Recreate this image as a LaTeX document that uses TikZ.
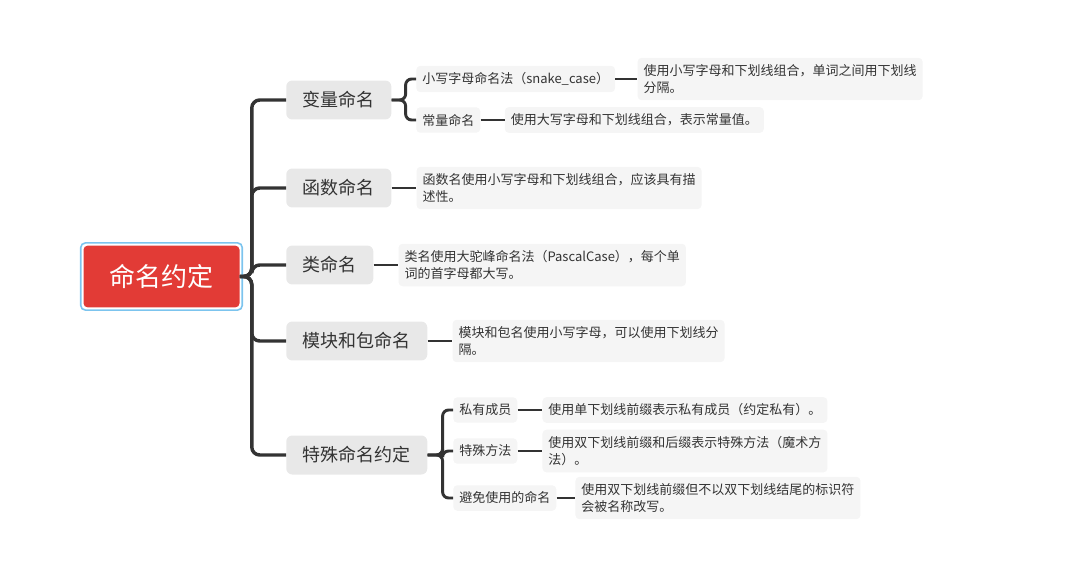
\documentclass[tikz,border=0pt]{standalone}
\usepackage{fontspec}
\setmainfont{Noto Sans CJK SC}
\usepackage{xcolor}
\usetikzlibrary{positioning,calc}
\definecolor{rootred}{HTML}{E23B36}
\definecolor{selblue}{HTML}{7CC4EE}
\definecolor{topicgray}{HTML}{E8E8E8}
\definecolor{leafgray}{HTML}{F5F5F5}
\definecolor{inkgray}{HTML}{333333}

\begin{document}
\begin{tikzpicture}[x=0.75pt,y=-0.75pt,
  rootbox/.style={fill=rootred,text=white,rounded corners=3pt,
    inner xsep=19.5pt,inner ysep=14pt,font=\fontsize{19.5}{23}\selectfont},
  topic/.style={fill=topicgray,text=inkgray,rounded corners=4.5pt,anchor=west,
    inner xsep=12.4pt,inner ysep=8.3pt,font=\fontsize{13.5}{16}\selectfont},
  leaf/.style={fill=leafgray,text=inkgray,rounded corners=3pt,align=left,
    inner xsep=4.5pt,inner ysep=5pt,font=\fontsize{9.75}{12.75}\selectfont},
  link/.style={draw=inkgray,line width=2.6pt,rounded corners=6pt},
  twig/.style={draw=inkgray,line width=2.2pt,rounded corners=4.5pt},
]
 \useasboundingbox (0,0) rectangle (1080,565);
 % root
 \node[rootbox] (root) at (161.5,276.5) {命名约定};
 \draw[selblue,line width=1.2pt,rounded corners=3.5pt]
   ($(root.south west)+(-2.5,2.5)$) rectangle ($(root.north east)+(2.5,-2.5)$);
 \coordinate (trunk) at ($(root.east)+(12,0)$);
 % first level
 \node[topic] (var)  at (286,100) {变量命名};
 \node[topic] (func) at (286,188) {函数命名};
 \node[topic] (cls)  at (286,265) {类命名};
 \node[topic] (mod)  at (286,341) {模块和包命名};
 \node[topic] (spec) at (286,455) {特殊命名约定};
 \foreach \t in {var,func,cls,mod,spec}
   \draw[link] (root.east) -- (trunk) |- (\t.west);
 % variables
 \node[leaf,anchor=west] (snake) at (416,79) {小写字母命名法（snake\_case）};
 \node[leaf,right=16.5pt of snake] (snaked) {使用小写字母和下划线组合，单词之间用下划线\\分隔。};
 \node[leaf,anchor=west] (const) at (416,120) {常量命名};
 \node[leaf,right=18pt of const] (constd) {使用大写字母和下划线组合，表示常量值。};
 \coordinate (varfork) at ($(var.east)+(14,0)$);
 \draw[twig] (var.east) -- (varfork) |- (snake.west);
 \draw[twig] (var.east) -- (varfork) |- (const.west);
 \draw[twig] (snake) -- (snaked);
 \draw[twig] (const) -- (constd);
 % functions, classes, modules
 \node[leaf,right=18.5pt of func] (funcd) {函数名使用小写字母和下划线组合，应该具有描\\述性。};
 \node[leaf,right=18.5pt of cls] (clsd) {类名使用大驼峰命名法（PascalCase），每个单\\词的首字母都大写。};
 \node[leaf,right=18.5pt of mod] (modd) {模块和包名使用小写字母，可以使用下划线分\\隔。};
 \draw[twig] (func) -- (funcd);
 \draw[twig] (cls) -- (clsd);
 \draw[twig] (mod) -- (modd);
 % special names
 \node[leaf,anchor=west] (priv)  at (453,410) {私有成员};
 \node[leaf,anchor=west] (magic) at (453,451) {特殊方法};
 \node[leaf,anchor=west] (avoid) at (453,498) {避免使用的命名};
 \node[leaf,right=18.5pt of priv] (privd) {使用单下划线前缀表示私有成员（约定私有）。};
 \node[leaf,right=18.5pt of magic] (magicd) {使用双下划线前缀和后缀表示特殊方法（魔术方\\法）。};
 \node[leaf,right=14pt of avoid] (avoidd) {使用双下划线前缀但不以双下划线结尾的标识符\\会被名称改写。};
 \coordinate (specfork) at ($(spec.east)+(15,0)$);
 \foreach \t in {priv,magic,avoid}
   \draw[twig] (spec.east) -- (specfork) |- (\t.west);
 \draw[twig] (priv) -- (privd);
 \draw[twig] (magic) -- (magicd);
 \draw[twig] (avoid) -- (avoidd);
\end{tikzpicture}
\end{document}
